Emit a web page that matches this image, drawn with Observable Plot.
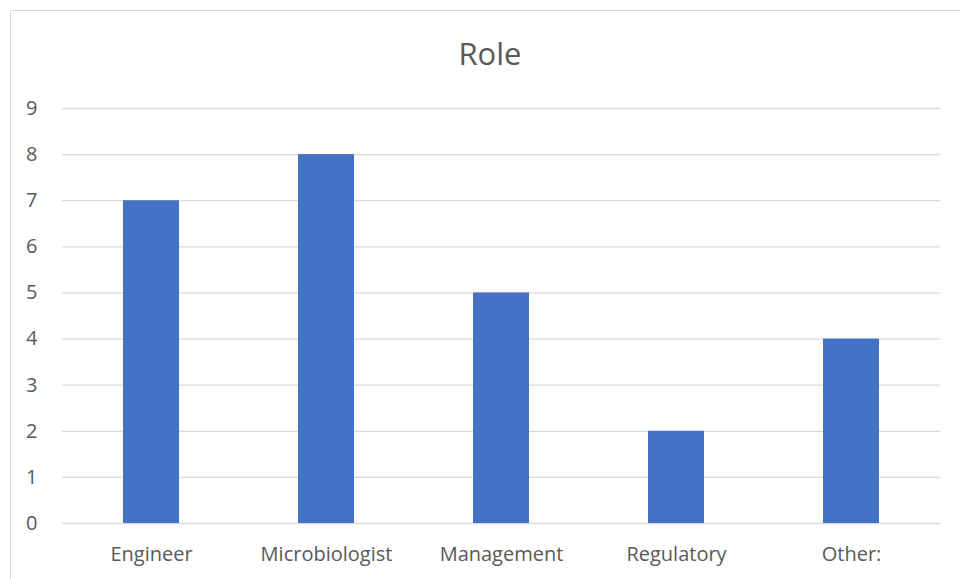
<!DOCTYPE html>
<html><head><meta charset="utf-8">
<script src="https://cdn.jsdelivr.net/npm/d3@7"></script>
<script src="https://cdn.jsdelivr.net/npm/@observablehq/plot@0.6"></script>
<style>
html,body{margin:0;padding:0;background:#fff;width:960px;height:579px;overflow:hidden;}
#frame{position:absolute;left:10px;top:10px;width:980px;height:600px;border:1px solid #d9d9d9;box-sizing:border-box;}
#title{position:absolute;left:10px;top:0;width:960px;height:90px;text-align:center;font-family:"Open Sans",sans-serif;font-size:31px;color:#595959;line-height:1;padding-top:38px;box-sizing:border-box;}
#chart{position:absolute;left:0;top:90px;}
</style></head>
<body>
<div id="frame"></div>
<div id="title">Role</div>
<div id="chart"></div>
<script>
const categories = ["Engineer","Microbiologist","Management","Regulatory","Other:"];
const counts = [7,8,5,2,4];
const yTicks = [0,1,2,3,4,5,6,7,8,9];
const data = categories.map((c,i)=>({role:c, count:counts[i]}));
const plot = Plot.plot({
  width: 960, height: 489,
  marginLeft: 62, marginRight: 20, marginTop: 18, marginBottom: 56,
  style: {fontFamily: '"Open Sans", sans-serif', fontSize: "20px", color: "#595959", background: "transparent"},
  x: {domain: categories, paddingInner: 0.68, paddingOuter: 0.34, align: 0.5, label: null, tickSize: 0, tickPadding: 23},
  y: {domain: [0,9], ticks: yTicks, label: null, tickSize: 0, tickPadding: 25},
  marks: [
    Plot.gridY(yTicks, {stroke: "#d9d9d9", strokeOpacity: 1, strokeWidth: 1.3}),
    Plot.barY(data, {x: "role", y: "count", fill: "#4472C4"})
  ]
});
document.getElementById("chart").appendChild(plot);
</script>
</body></html>
